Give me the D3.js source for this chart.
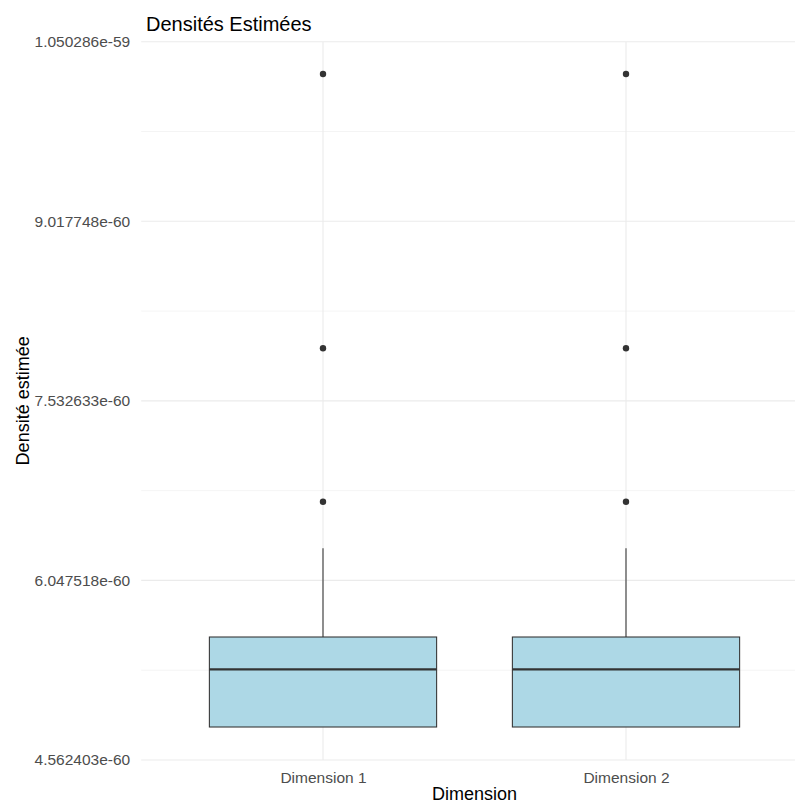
<!DOCTYPE html>
<html>
<head>
<meta charset="utf-8">
<script src="https://cdn.jsdelivr.net/npm/d3@7"></script>
<style>
  html, body { margin: 0; padding: 0; background: #ffffff; }
  svg { display: block; font-family: "Liberation Sans", Arial, sans-serif; }
</style>
</head>
<body>
<svg id="chart" width="795" height="805"></svg>
<script>
// Box statistics per dimension (values in units of 1e-60)
const categories = ["Dimension 1", "Dimension 2"];
const lowerWhisker = [4.8353, 4.8353];
const q1 = [4.8353, 4.8353];
const median = [5.3125, 5.3125];
const q3 = [5.5796, 5.5796];
const upperWhisker = [6.3131, 6.3131];
const outliers = [
  [6.6985, 7.9671, 10.2355],
  [6.6985, 7.9671, 10.2355]
];
const yTicks = [4.562403, 6.047518, 7.532633, 9.017748, 10.50286];
const yTickLabels = ["4.562403e-60", "6.047518e-60", "7.532633e-60", "9.017748e-60", "1.050286e-59"];

const svg = d3.select("#chart");
const panel = { left: 141.2, right: 807.8, top: 41.7, bottom: 760 };

const y = d3.scaleLinear()
  .domain([yTicks[0], yTicks[yTicks.length - 1]])
  .range([panel.bottom, panel.top]);

const x = d3.scalePoint()
  .domain(categories)
  .range([panel.left, panel.right])
  .padding(0.6);

const boxWidth = x.step() * 0.75;
const gridColor = "#ebebeb";
const ink = "#333333";

// Minor horizontal gridlines halfway between the major ticks
const minorTicks = d3.pairs(yTicks).map(([a, b]) => (a + b) / 2);
svg.append("g").selectAll("line").data(minorTicks).join("line")
  .attr("x1", panel.left).attr("x2", panel.right)
  .attr("y1", d => y(d)).attr("y2", d => y(d))
  .attr("stroke", gridColor).attr("stroke-width", 0.55);

// Major horizontal gridlines
svg.append("g").selectAll("line").data(yTicks).join("line")
  .attr("x1", panel.left).attr("x2", panel.right)
  .attr("y1", d => y(d)).attr("y2", d => y(d))
  .attr("stroke", gridColor).attr("stroke-width", 1.1);

// Vertical gridlines at each category
svg.append("g").selectAll("line").data(categories).join("line")
  .attr("x1", d => x(d)).attr("x2", d => x(d))
  .attr("y1", panel.top).attr("y2", panel.bottom)
  .attr("stroke", gridColor).attr("stroke-width", 1.1);

// Y axis tick labels
const yAxis = d3.axisLeft(y)
  .tickValues(yTicks)
  .tickFormat((d, i) => yTickLabels[i])
  .tickSize(0)
  .tickPadding(0);
const gy = svg.append("g")
  .attr("transform", `translate(${panel.left - 11},0)`)
  .call(yAxis);
gy.select(".domain").remove();
gy.selectAll("text")
  .attr("fill", "#4d4d4d")
  .attr("font-size", "15.5px")
  .attr("font-family", "Liberation Sans, Arial, sans-serif");

// X axis tick labels
const xAxis = d3.axisBottom(x).tickSize(0).tickPadding(0);
const gx = svg.append("g")
  .attr("transform", `translate(0,${panel.bottom + 12})`)
  .call(xAxis);
gx.select(".domain").remove();
gx.selectAll("text")
  .attr("fill", "#4d4d4d")
  .attr("font-size", "15.5px")
  .attr("font-family", "Liberation Sans, Arial, sans-serif");

// Boxplots
const boxes = svg.append("g").selectAll("g").data(categories).join("g");

boxes.append("line")
  .attr("x1", d => x(d)).attr("x2", d => x(d))
  .attr("y1", (d, i) => y(q3[i])).attr("y2", (d, i) => y(upperWhisker[i]))
  .attr("stroke", ink).attr("stroke-width", 1.07);

boxes.append("line")
  .attr("x1", d => x(d)).attr("x2", d => x(d))
  .attr("y1", (d, i) => y(q1[i])).attr("y2", (d, i) => y(lowerWhisker[i]))
  .attr("stroke", ink).attr("stroke-width", 1.07);

boxes.append("rect")
  .attr("x", d => x(d) - boxWidth / 2)
  .attr("width", boxWidth)
  .attr("y", (d, i) => y(q3[i]))
  .attr("height", (d, i) => y(q1[i]) - y(q3[i]))
  .attr("fill", "#add8e6")
  .attr("stroke", ink).attr("stroke-width", 1.07);

boxes.append("line")
  .attr("x1", d => x(d) - boxWidth / 2).attr("x2", d => x(d) + boxWidth / 2)
  .attr("y1", (d, i) => y(median[i])).attr("y2", (d, i) => y(median[i]))
  .attr("stroke", ink).attr("stroke-width", 2.2);

boxes.each(function (d, i) {
  d3.select(this).selectAll("circle").data(outliers[i]).join("circle")
    .attr("cx", x(d))
    .attr("cy", v => y(v))
    .attr("r", 3.2)
    .attr("fill", ink);
});

// Titles
svg.append("text")
  .attr("x", 146).attr("y", 30.5)
  .attr("font-size", "20px").attr("fill", "#000")
  .text("Densités Estimées");

svg.append("text")
  .attr("x", (panel.left + panel.right) / 2).attr("y", 800)
  .attr("text-anchor", "middle")
  .attr("font-size", "18px").attr("fill", "#000")
  .text("Dimension");

svg.append("text")
  .attr("transform", `translate(29,${(panel.top + panel.bottom) / 2}) rotate(-90)`)
  .attr("text-anchor", "middle")
  .attr("font-size", "18px").attr("fill", "#000")
  .text("Densité estimée");
</script>
</body>
</html>
